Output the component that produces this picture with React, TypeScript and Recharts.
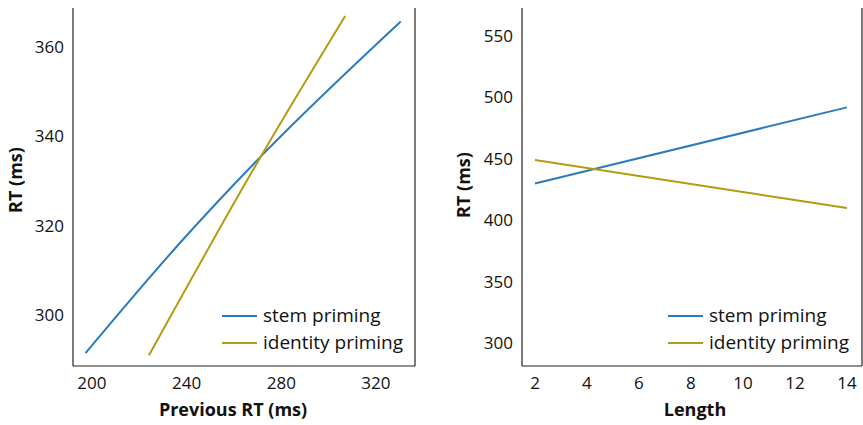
import { Line, LineChart, XAxis, YAxis, Label } from "recharts";

// Fitted curves at a few points along each line.
const prevRtStem = [
  { x: 197.3, y: 291.5 },
  { x: 238.3, y: 316.8 },
  { x: 271.4, y: 335.5 },
  { x: 330.5, y: 365.7 },
];
const prevRtIdentity = [
  { x: 224.1, y: 291.0 },
  { x: 271.4, y: 335.5 },
  { x: 307.0, y: 366.9 },
];
const prevRtTicks = [200, 240, 280, 320];
const rtTicksLeft = [300, 320, 340, 360];

const lengthStem = [
  { x: 2, y: 429.9 },
  { x: 14, y: 491.9 },
];
const lengthIdentity = [
  { x: 2, y: 449 },
  { x: 14, y: 410 },
];
const lengthTicks = [2, 4, 6, 8, 10, 12, 14];
const rtTicksRight = [300, 350, 400, 450, 500, 550];

const SERIES = ["stem priming", "identity priming"];
const BLUE = "#2a7bbf";
const GOLD = "#b39c10";
const FONT = "'Open Sans', sans-serif";

const tickStyle = { fill: "#111", fontSize: 17, fontFamily: FONT };
const labelStyle = { fill: "#111", fontSize: 18, fontWeight: 700, fontFamily: FONT };

// Legend sits inside the plot box, bottom right, so it is drawn as an overlay.
function LegendBox({ left, top }: { left: number; top: number }) {
  const colors = [BLUE, GOLD];
  return (
    <div
      style={{
        position: "absolute",
        left,
        top,
        fontFamily: FONT,
        fontSize: 19,
        color: "#111",
        lineHeight: "27px",
        whiteSpace: "nowrap",
      }}
    >
      {SERIES.map((s, i) => (
        <div key={s} style={{ display: "flex", alignItems: "center" }}>
          <svg width={41} height={4}>
            <line x1={0} x2={35} y1={2} y2={2} stroke={colors[i]} strokeWidth={2} />
          </svg>
          <span>{s}</span>
        </div>
      ))}
    </div>
  );
}

function Panel({
  stem,
  identity,
  xDomain,
  yDomain,
  xTicks,
  yTicks,
  xLabel,
  xLabelDx,
  yLabelDx,
  yLabelDy,
  width,
}: {
  stem: { x: number; y: number }[];
  identity: { x: number; y: number }[];
  xDomain: [number, number];
  yDomain: [number, number];
  xTicks: number[];
  yTicks: number[];
  xLabel: string;
  xLabelDx: number;
  yLabelDx: number;
  yLabelDy: number;
  width: number;
}) {
  const frame = { stroke: "#222", strokeWidth: 1.2 };
  return (
    <LineChart width={width} height={425} margin={{ top: 8, right: 0, left: 0, bottom: 0 }}>
      <XAxis
        xAxisId="b"
        type="number"
        dataKey="x"
        domain={xDomain}
        ticks={xTicks}
        allowDataOverflow
        tick={tickStyle}
        tickLine={false}
        tickSize={0}
        tickMargin={11}
        height={59}
        axisLine={frame}
      >
        <Label value={xLabel} position="insideBottom" offset={9} dx={xLabelDx} style={labelStyle} />
      </XAxis>
      <XAxis
        xAxisId="t"
        orientation="top"
        type="number"
        domain={xDomain}
        allowDataOverflow
        tick={false}
        tickLine={false}
        height={0}
        axisLine={frame}
      />
      <YAxis
        yAxisId="l"
        type="number"
        dataKey="y"
        domain={yDomain}
        ticks={yTicks}
        allowDataOverflow
        tick={tickStyle}
        tickLine={false}
        tickSize={0}
        tickMargin={9}
        width={73}
        axisLine={frame}
      >
        <Label
          value="RT (ms)"
          angle={-90}
          position="center"
          dx={yLabelDx}
          dy={yLabelDy}
          style={{ ...labelStyle, textAnchor: "middle" }}
        />
      </YAxis>
      <YAxis
        yAxisId="r"
        orientation="right"
        type="number"
        domain={yDomain}
        allowDataOverflow
        tick={false}
        tickLine={false}
        width={15}
        axisLine={frame}
      />
      <Line
        xAxisId="b"
        yAxisId="l"
        type="monotone"
        data={stem}
        dataKey="y"
        name={SERIES[0]}
        stroke={BLUE}
        strokeWidth={2}
        dot={false}
        isAnimationActive={false}
      />
      <Line
        xAxisId="b"
        yAxisId="l"
        type="monotone"
        data={identity}
        dataKey="y"
        name={SERIES[1]}
        stroke={GOLD}
        strokeWidth={2}
        dot={false}
        isAnimationActive={false}
      />
    </LineChart>
  );
}

export default function App() {
  return (
    <div style={{ position: "fixed", left: 0, top: 0, width: 863, height: 425, background: "#fff" }}>
      <div style={{ position: "absolute", left: 0, top: 0 }}>
        <Panel
          stem={prevRtStem}
          identity={prevRtIdentity}
          xDomain={[192, 336.5]}
          yDomain={[288.6, 368.7]}
          xTicks={prevRtTicks}
          yTicks={rtTicksLeft}
          xLabel="Previous RT (ms)"
          xLabelDx={-11}
          yLabelDx={-21}
          yLabelDy={-7}
          width={430}
        />
      </div>
      <div style={{ position: "absolute", left: 449, top: 0 }}>
        <Panel
          stem={lengthStem}
          identity={lengthIdentity}
          xDomain={[1.5, 14.58]}
          yDomain={[281.3, 572.8]}
          xTicks={lengthTicks}
          yTicks={rtTicksRight}
          xLabel="Length"
          xLabelDx={3}
          yLabelDx={-22}
          yLabelDy={-2}
          width={428}
        />
      </div>
      <LegendBox left={222} top={302} />
      <LegendBox left={668} top={302} />
    </div>
  );
}
